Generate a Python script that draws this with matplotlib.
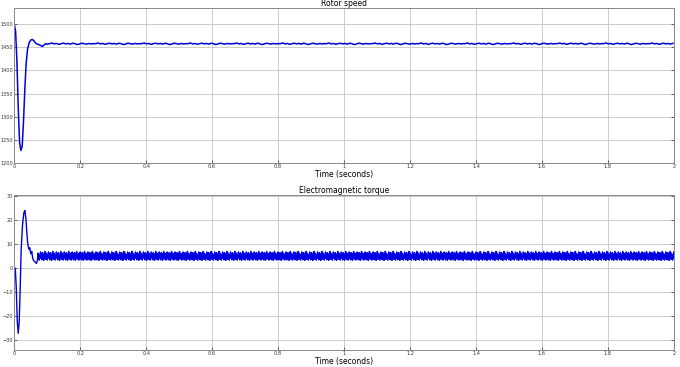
import matplotlib
matplotlib.use("Agg")
import matplotlib.pyplot as plt
import numpy as np

# rotor speed: start-up transient, then a short ripple pattern
speed_t = [0, 0.004, 0.008, 0.012, 0.016, 0.02, 0.024, 0.028, 0.032, 0.036, 0.04,
           0.045, 0.05, 0.055, 0.06, 0.065, 0.07, 0.075, 0.08, 0.085, 0.09, 0.095, 0.1]
speed_v = [1500, 1485, 1420, 1320, 1245, 1227, 1236, 1290, 1360, 1415, 1445,
           1460, 1466, 1467, 1464, 1459, 1457, 1456, 1454, 1452, 1455, 1458, 1457]
speed_ripple = [1458, 1459.5, 1457.5, 1458.5, 1456.5, 1458, 1459, 1457.5, 1458.5, 1457,
                1459, 1458, 1456, 1457.5, 1459, 1458, 1457, 1458.5, 1457.5, 1458]
speed_step = 0.007

# electromagnetic torque
torque_t = [0, 0.003, 0.006, 0.009, 0.012, 0.015, 0.018, 0.021, 0.025, 0.029, 0.032,
            0.035, 0.038, 0.041, 0.044, 0.047, 0.05, 0.053, 0.056, 0.06, 0.064, 0.067, 0.07]
torque_v = [0, 0, -8, -22, -27, -22, -8, 8, 18, 23, 24,
            21, 15, 10, 8, 8.5, 6, 7, 4, 3, 2.5, 2, 3]
torque_ripple = [5, 6.3, 3.8, 5.8, 3.4, 5.4, 4.2, 6.8, 4.6, 5.9, 3.5, 5, 6.5, 4, 5.5, 3.3, 6, 4.3, 7, 3.8]
torque_step = 0.0012

t_end = 2.0


def extend(t0, v0, ripple, step):
    n = int((t_end - t0[-1]) / step)
    tt = list(t0) + [t0[-1] + step * (i + 1) for i in range(n)]
    vv = list(v0) + [ripple[i % len(ripple)] for i in range(n)]
    return tt, vv


st, sv = extend(speed_t, speed_v, speed_ripple, speed_step)
tt, tv = extend(torque_t, torque_v, torque_ripple, torque_step)

fig = plt.figure(figsize=(6.8, 3.67), dpi=100)
ax1 = fig.add_axes([0.021, 0.556, 0.970, 0.422])
ax2 = fig.add_axes([0.021, 0.046, 0.970, 0.423])

blue = "#0000e0"
ax1.plot(st, sv, color=blue, lw=1.1)
ax2.plot(tt, tv, color=blue, lw=1.0)

ax1.set_ylim(1200, 1535)
ax1.set_yticks([1200, 1250, 1300, 1350, 1400, 1450, 1500])
ax2.set_ylim(-34, 30.5)
ax2.set_yticks([-30, -20, -10, 0, 10, 20, 30])

for ax, title in [(ax1, "Rotor speed"), (ax2, "Electromagnetic torque")]:
    ax.set_xlim(0, 2)
    ax.set_xticks(np.arange(0, 2.01, 0.2))
    ax.set_xticklabels(["0", "0.2", "0.4", "0.6", "0.8", "1", "1.2", "1.4", "1.6", "1.8", "2"])
    ax.grid(True, color="#c4c4c4", lw=0.6)
    ax.tick_params(labelsize=3.6, length=2, width=0.5, pad=0.8, direction="in",
                   right=True, top=False, colors="#333333")
    ax.set_title(title, fontsize=5.5, pad=1.5)
    ax.set_xlabel("Time (seconds)", fontsize=5.5, labelpad=0.5)
    for s in ax.spines.values():
        s.set_color("#888888")
        s.set_linewidth(0.7)

fig.savefig("out.png", dpi=100)
